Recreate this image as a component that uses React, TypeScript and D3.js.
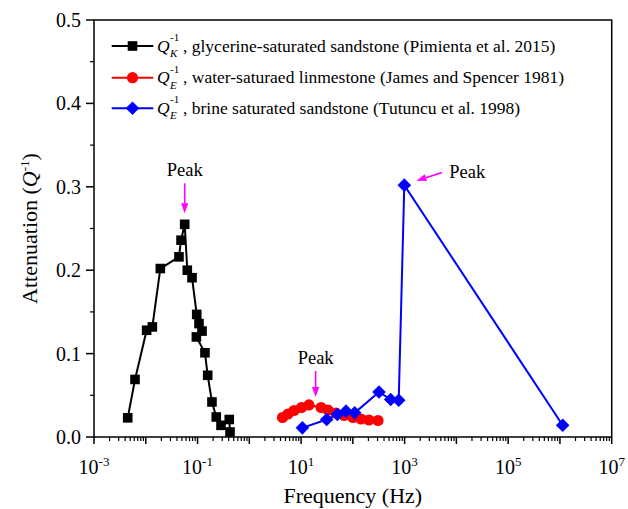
import React from "react";
import * as d3 from "d3";

// ---- data ----
const blackFreq = [0.00448, 0.0062, 0.0104, 0.0134, 0.0191, 0.0438, 0.048, 0.0565, 0.0634, 0.0782, 0.0964, 0.1067, 0.122, 0.095, 0.139, 0.157, 0.19, 0.23, 0.284, 0.41, 0.424];
const blackQ = [0.023, 0.069, 0.128, 0.132, 0.202, 0.216, 0.236, 0.255, 0.2, 0.191, 0.147, 0.136, 0.127, 0.12, 0.101, 0.074, 0.042, 0.024, 0.014, 0.021, 0.006];

const redFreq = [4.38, 5.59, 7.3, 10.2, 14.2, 24.3, 33.1, 47.3, 67.5, 100.7, 143.6, 205, 306];
const redQ = [0.0234, 0.0276, 0.0318, 0.0354, 0.0384, 0.0354, 0.0324, 0.0288, 0.0258, 0.0234, 0.0216, 0.0204, 0.0198];

const blueFreq = [10.6, 31.3, 50.1, 73.8, 108.6, 320, 538, 769, 986, 1.13e6];
const blueQ = [0.011, 0.021, 0.027, 0.031, 0.029, 0.054, 0.045, 0.044, 0.302, 0.014];

const xTickExps = [-3, -2, -1, 0, 1, 2, 3, 4, 5, 6, 7];
const yTicks = [0, 0.1, 0.2, 0.3, 0.4, 0.5];

const legendSub = ["K", "E", "E"];
const legendText = [
  ", glycerine-saturated sandstone (Pimienta et al. 2015)",
  ", water-saturaed linmestone (James and Spencer 1981)",
  ", brine saturated sandstone (Tutuncu et al. 1998)",
];

// annotation anchors (data space)
const peakFreqs = [0.0565, 19.1, 986];
const peakQs = [0.255, 0.0384, 0.302];

const FONT = "Liberation Serif, Tinos, Times New Roman, DejaVu Serif, serif";
const W = 628;
const H = 509;

export default function App() {
  const x = d3.scaleLog().domain([1e-3, 1e7]).range([94, 611.7]);
  const y = d3.scaleLinear().domain([0, 0.5]).range([437, 20]);
  const [x0, x1] = x.range();
  const [y0, y1] = y.range();

  const line = d3
    .line<[number, number]>()
    .x((d) => x(d[0]))
    .y((d) => y(d[1]));

  const black = blackFreq.map((f, i) => [f, blackQ[i]] as [number, number]);
  const red = redFreq.map((f, i) => [f, redQ[i]] as [number, number]);
  const blue = blueFreq.map((f, i) => [f, blueQ[i]] as [number, number]);

  const minorX: number[] = [];
  for (let e = -3; e < 7; e++) {
    for (let m = 2; m <= 9; m++) minorX.push(m * Math.pow(10, e));
  }
  const minorY = [0.05, 0.15, 0.25, 0.35, 0.45];

  const square = (cx: number, cy: number, key: any) => (
    <rect key={key} x={cx - 4.8} y={cy - 4.8} width={9.6} height={9.6} fill="#000" />
  );
  const circle = (cx: number, cy: number, key: any) => (
    <circle key={key} cx={cx} cy={cy} r={5.6} fill="#ff0000" />
  );
  const diamond = (cx: number, cy: number, key: any) => (
    <path key={key} d={`M${cx},${cy - 6.8}L${cx + 6.8},${cy}L${cx},${cy + 6.8}L${cx - 6.8},${cy}Z`} fill="#0000ff" />
  );

  const colors = ["#000", "#ff0000", "#0000ff"];
  const markers = [square, circle, diamond];
  const legendRows = [46, 77.7, 108.3];

  const magenta = "#ff00ff";
  const arrow = (tx: number, ty: number, fx: number, fy: number, key: any) => {
    const ang = Math.atan2(ty - fy, tx - fx);
    const L = 10;
    const hw = 3.6;
    const bx = tx - L * Math.cos(ang);
    const by = ty - L * Math.sin(ang);
    const px = -Math.sin(ang) * hw;
    const py = Math.cos(ang) * hw;
    return (
      <g key={key}>
        <line x1={fx} y1={fy} x2={bx} y2={by} stroke={magenta} strokeWidth={1.6} />
        <path d={`M${tx},${ty}L${bx + px},${by + py}L${bx - px},${by - py}Z`} fill={magenta} />
      </g>
    );
  };

  const p1x = x(peakFreqs[0]);
  const p1y = y(peakQs[0]);
  const p2x = x(peakFreqs[1]);
  const p2y = y(peakQs[1]);
  const p3x = x(peakFreqs[2]);
  const p3y = y(peakQs[2]);

  return (
    <div style={{ position: "absolute", left: 0, top: 0 }}>
      <svg width={W} height={H} style={{ display: "block", background: "#fff", fontFamily: FONT }}>
        {/* series lines */}
        <path d={line(black) || ""} fill="none" stroke="#000" strokeWidth={2} />
        <path d={line(red) || ""} fill="none" stroke="#ff0000" strokeWidth={2} />
        <path d={line(blue) || ""} fill="none" stroke="#0000ff" strokeWidth={2} />
        {black.map((d, i) => square(x(d[0]), y(d[1]), "b" + i))}
        {red.map((d, i) => circle(x(d[0]), y(d[1]), "r" + i))}
        {blue.map((d, i) => diamond(x(d[0]), y(d[1]), "u" + i))}

        {/* frame */}
        <rect x={x0} y={y1} width={x1 - x0} height={y0 - y1} fill="none" stroke="#000" strokeWidth={1.5} />

        {/* x ticks */}
        {xTickExps.map((e) => {
          const px = x(Math.pow(10, e));
          return <line key={"xt" + e} x1={px} x2={px} y1={y0} y2={y0 + 7} stroke="#000" strokeWidth={1.5} />;
        })}
        {minorX.map((v, i) => {
          const px = x(v);
          return <line key={"xm" + i} x1={px} x2={px} y1={y0} y2={y0 + 4} stroke="#000" strokeWidth={1.2} />;
        })}
        {xTickExps
          .filter((e) => (e + 3) % 2 === 0)
          .map((e) => (
            <text key={"xl" + e} x={x(Math.pow(10, e))} y={474} textAnchor="middle" fontSize={20} fill="#000">
              10
              <tspan dy={-8} fontSize={13}>
                {String(e)}
              </tspan>
            </text>
          ))}

        {/* y ticks */}
        {yTicks.map((v) => (
          <g key={"yt" + v}>
            <line x1={x0 - 8} x2={x0} y1={y(v)} y2={y(v)} stroke="#000" strokeWidth={1.5} />
            <text x={81} y={y(v) + 7} textAnchor="end" fontSize={20} fill="#000">
              {v.toFixed(1)}
            </text>
          </g>
        ))}
        {minorY.map((v) => (
          <line key={"ym" + v} x1={x0 - 4} x2={x0} y1={y(v)} y2={y(v)} stroke="#000" strokeWidth={1.2} />
        ))}

        {/* axis titles */}
        <text x={(x0 + x1) / 2} y={503} textAnchor="middle" fontSize={22} fill="#000">
          Frequency (Hz)
        </text>
        <text transform={`translate(37,${(y0 + y1) / 2}) rotate(-90)`} textAnchor="middle" fontSize={22} fill="#000">
          Attenuation (<tspan fontStyle="italic">Q</tspan>
          <tspan dy={-8} fontSize={13}>-1</tspan>
          <tspan dy={8}>)</tspan>
        </text>

        {/* legend */}
        {legendRows.map((ry, i) => (
          <g key={"lg" + i}>
            <line x1={111.7} x2={153.3} y1={ry} y2={ry} stroke={colors[i]} strokeWidth={2} />
            {markers[i](132.5, ry, "lm" + i)}
            <text x={157} y={ry + 5.5} fontSize={17.5} fontStyle="italic" fill="#000">Q</text>
            <text x={170} y={ry - 5} fontSize={11} fill="#000">-1</text>
            <text x={170} y={ry + 11} fontSize={11} fontStyle="italic" fill="#000">{legendSub[i]}</text>
            <text x={183} y={ry + 5.5} fontSize={17.5} fill="#000">{legendText[i]}</text>
          </g>
        ))}

        {/* peak annotations */}
        {arrow(p1x, p1y - 11, p1x, p1y - 41, "a1")}
        <text x={p1x} y={p1y - 48} textAnchor="middle" fontSize={18.5} fill="#000">Peak</text>
        {arrow(p2x, p2y - 8, p2x, p2y - 34, "a2")}
        <text x={p2x} y={p2y - 41} textAnchor="middle" fontSize={18.5} fill="#000">Peak</text>
        {arrow(p3x + 12, p3y - 4.5, p3x + 37.5, p3y - 12.5, "a3")}
        <text x={p3x + 45} y={p3y - 7} fontSize={18.5} fill="#000">Peak</text>
      </svg>
    </div>
  );
}
